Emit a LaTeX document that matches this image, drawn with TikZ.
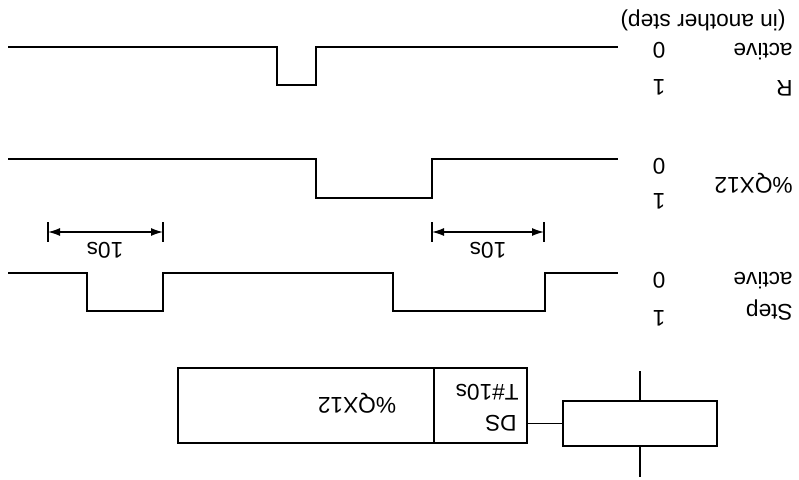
\documentclass[tikz,border=0pt]{standalone}
\usepackage{fontspec}
\setmainfont{Liberation Sans}
\usetikzlibrary{arrows.meta}
\begin{document}
\begin{tikzpicture}[x=0.75pt,y=-0.75pt,
  wave/.style={line width=1.4pt, line join=miter},
  lbl/.style={rotate=180, font=\fontsize{17}{20}\selectfont, inner sep=0pt},
  boxed/.style={draw, line width=1.2pt, inner sep=0pt},
  thin/.style={line width=1pt},
  dim/.style={line width=1pt, {Latex[length=9pt,width=6pt]}-{Latex[length=9pt,width=6pt]}},
]
\useasboundingbox (0,0) rectangle (799,479);

% waveforms
\draw[wave] (8,47) -- (277,47) -- (277,85) -- (316,85) -- (316,47) -- (618,47);
\draw[wave] (8,159) -- (316,159) -- (316,198) -- (432,198) -- (432,159) -- (618,159);
\draw[wave] (8,273) -- (87,273) -- (87,311) -- (163,311) -- (163,273) -- (393,273) -- (393,311) -- (545,311) -- (545,273) -- (618,273);

% dimensions
\coordinate (d1a) at (48,232);
\coordinate (d1b) at (163,232);
\coordinate (d2a) at (432,232);
\coordinate (d2b) at (544,232);
\foreach \c in {d1a,d1b,d2a,d2b} \draw[thin] ([yshift=7.5pt]\c) -- ([yshift=-7.5pt]\c);
\draw[dim] (d1a) -- (d1b);
\draw[dim] (d2a) -- (d2b);
\node[lbl] (t1) at (105,250) {10s};
\node[lbl] (t2) at (488,250) {10s};

% labels
\node[lbl] (inanother) at (703,20) {(in another step)};
\node[lbl, anchor=west] (ract) at (793,52) {active};
\node[lbl, anchor=west] (rname) at (793,88) {R};
\node[lbl] (r0) at (659,50) {0};
\node[lbl] (r1) at (659,87) {1};
\node[lbl, anchor=west] (qname) at (793,183) {\%QX12};
\node[lbl] (q0) at (659,166) {0};
\node[lbl] (q1) at (659,201) {1};
\node[lbl, anchor=west] (sact) at (793,281) {active};
\node[lbl, anchor=west] (sname) at (793,310) {Step};
\node[lbl] (s0) at (659,280) {0};
\node[lbl] (s1) at (659,318) {1};

% action block
\node[boxed, minimum width=261.75pt, minimum height=56.25pt] (action) at (352.5,405.5) {};
\draw[boxed] (434,368) -- (434,443);
\node[lbl] (aname) at (357,403) {\%QX12};
\node[lbl, anchor=west] (ads) at (517,423) {DS};
\node[lbl, anchor=west] (atime) at (519,392) {T\#10s};

% step
\node[boxed, minimum width=115.5pt, minimum height=33.75pt] (step) at (640,423.5) {};
\coordinate (stop) at (640,371);
\coordinate (sbot) at (640,477);
\draw[boxed] (step.north) -- (stop);
\draw[boxed] (step.south) -- (sbot);
\draw[thin] (step.west) -- (step.west -| action.east);
\end{tikzpicture}
\end{document}
